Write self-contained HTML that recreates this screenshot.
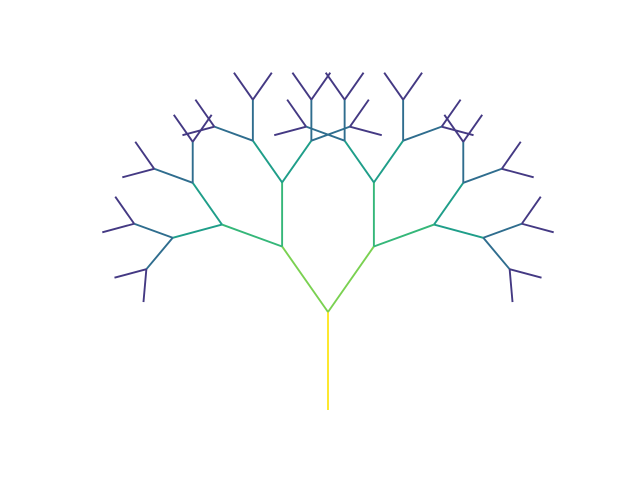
<!DOCTYPE html>
<html><head><meta charset="utf-8"><style>body{margin:0;background:#fff}svg{display:block}</style></head>
<body>
<svg id="chart" width="640" height="480" viewBox="0 0 640 480" xmlns="http://www.w3.org/2000/svg">
<g id="tree"></g>
</svg>
<script>
const levelLengths = [98, 80, 64, 51, 41, 33];
const branchAngle = 35;
const levelColors = ["#fde725", "#7ad151", "#35b779", "#1f9e89", "#2f6d8e", "#443983"];
const rootX = 328, rootY = 410;
const g = document.getElementById('tree');
function draw(x, y, ang, lvl) {
  if (lvl >= levelLengths.length) return;
  const r = ang * Math.PI / 180;
  const x2 = x + levelLengths[lvl] * Math.sin(r);
  const y2 = y - levelLengths[lvl] * Math.cos(r);
  const l = document.createElementNS('http://www.w3.org/2000/svg', 'line');
  l.setAttribute('x1', x); l.setAttribute('y1', y);
  l.setAttribute('x2', x2); l.setAttribute('y2', y2);
  l.setAttribute('stroke', levelColors[lvl]);
  l.setAttribute('stroke-width', '1.9');
  
  
  g.appendChild(l);
  draw(x2, y2, ang - branchAngle, lvl + 1);
  draw(x2, y2, ang + branchAngle, lvl + 1);
}
draw(rootX, rootY, 0, 0);
</script>
</body></html>
